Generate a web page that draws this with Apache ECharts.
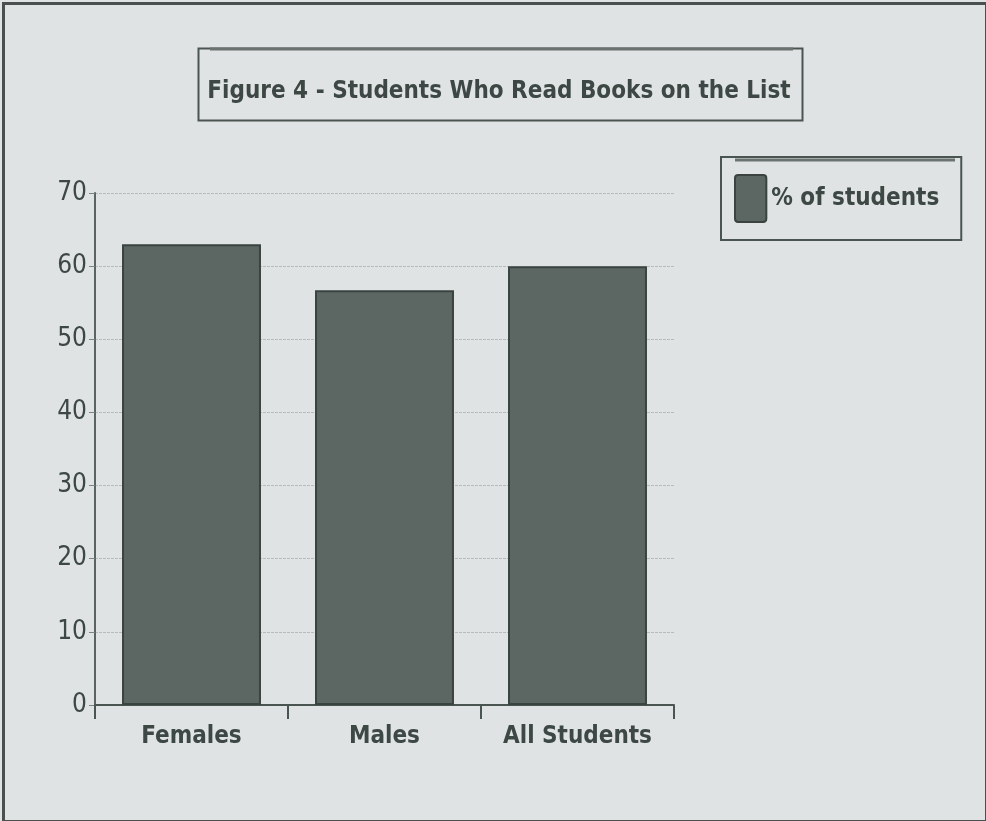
<!DOCTYPE html>
<html><head><meta charset="utf-8">
<script src="https://cdn.jsdelivr.net/npm/echarts@6/dist/echarts.min.js"></script>
<style>html,body{margin:0;padding:0;background:#dfe3e3}#c{width:986px;height:821px}</style>
</head><body><div id="c"></div>
<script>
const categories = ['Females', 'Males', 'All Students'];
const values = [63, 56.7, 60];
const seriesName = '% of students';
const titleText = 'Figure 4 - Students Who Read Books on the List';
const yTicks = [0, 10, 20, 30, 40, 50, 60, 70];

const FONT = '"DejaVu Sans Condensed", "DejaVu Sans", sans-serif';
const TXT = '#3d4845';
const chart = echarts.init(document.getElementById('c'));
chart.setOption({
  backgroundColor: '#dfe3e3',
  animation: false,
  title: {
    text: titleText,
    left: 494, top: 75, textAlign: 'center',
    textStyle: { fontFamily: FONT, fontSize: 24, fontWeight: 'bold', color: TXT }
  },
  legend: {
    data: [seriesName],
    left: 721, top: 157,
    orient: 'vertical',
    padding: [17, 22, 17, 13],
    itemWidth: 37, itemHeight: 47, itemGap: 0,
    borderColor: '#4a5451', borderWidth: 2,
    textStyle: { fontFamily: FONT, fontSize: 24, fontWeight: 'bold', color: TXT, padding: [0, 0, 0, -3] },
    icon: 'path://M2,0 L18,0 Q20,0 20,2 L20,28 Q20,30 18,30 L2,30 Q0,30 0,28 L0,2 Q0,0 2,0 Z'
  },
  graphic: [
    { type: 'rect', left: 1, top: 1, shape: { width: 983, height: 818 }, style: { fill: 'none', stroke: '#4a4f4f', lineWidth: 3 } },
    { type: 'rect', left: 196, top: 46, shape: { width: 604, height: 72 }, style: { fill: 'none', stroke: '#4a5451', lineWidth: 2 } },
    { type: 'line', shape: { x1: 210, y1: 49, x2: 793, y2: 49 }, style: { stroke: '#6a7370', lineWidth: 3 } },
    { type: 'line', shape: { x1: 735, y1: 160, x2: 955, y2: 160 }, style: { stroke: '#6a7370', lineWidth: 3 } }
  ],
  grid: { left: 95, right: 312, top: 193, bottom: 116, containLabel: false },
  xAxis: {
    type: 'category',
    data: categories,
    axisLine: { lineStyle: { color: '#4a5451', width: 2 } },
    axisTick: { show: true, interval: 0, length: 14, lineStyle: { color: '#4a5451', width: 2 }, alignWithLabel: false },
    axisLabel: { interval: 0, fontFamily: FONT, fontSize: 24, fontWeight: 'bold', color: TXT, margin: 20 }
  },
  yAxis: {
    type: 'value',
    min: 0, max: 70, interval: 10,
    axisLine: { show: true, lineStyle: { color: '#5a6360', width: 2 } },
    axisTick: { show: true, length: 6, lineStyle: { color: '#7a8380' } },
    axisLabel: { fontFamily: FONT, fontSize: 26, color: TXT, margin: 8,
      formatter: v => yTicks.includes(v) ? String(v) : '' },
    splitLine: { show: true, lineStyle: { color: '#b5bcbb', width: 1, type: [3, 1] } }
  },
  series: [{
    name: seriesName,
    type: 'bar',
    data: values,
    barWidth: '72%',
    itemStyle: { color: '#5c6662', borderColor: '#3a4340', borderWidth: 2 }
  }]
});
</script></body></html>
